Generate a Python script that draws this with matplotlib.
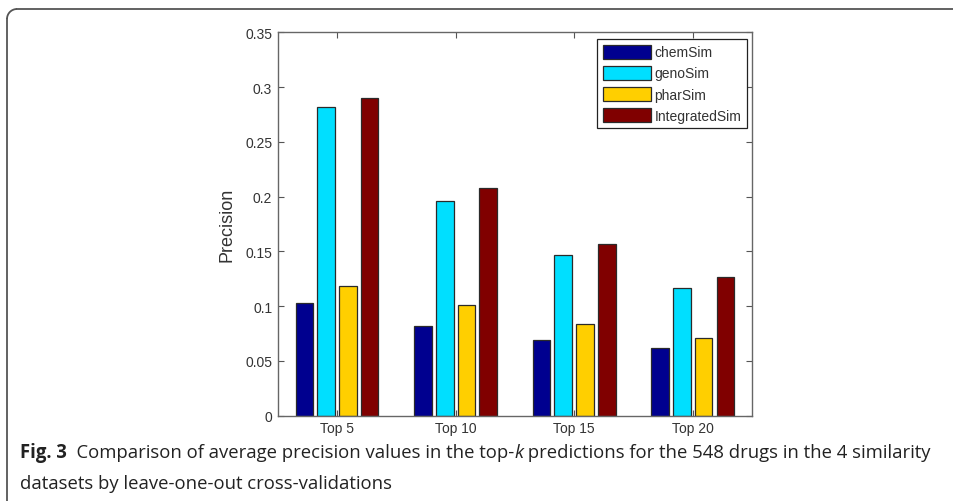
"""Grouped bar chart of top-k precision for four similarity measures."""

import numpy as np
import matplotlib
matplotlib.use('Agg')
import matplotlib.pyplot as plt
from matplotlib.patches import Arc
from matplotlib.lines import Line2D


# data
categories = ['Top 5', 'Top 10', 'Top 15', 'Top 20']
series = ['chemSim', 'genoSim', 'pharSim', 'IntegratedSim']
chem_sim = [0.103, 0.082, 0.069, 0.062]
geno_sim = [0.282, 0.196, 0.147, 0.117]
phar_sim = [0.118, 0.101, 0.084, 0.071]
integrated_sim = [0.290, 0.208, 0.157, 0.127]
yticks = [0, 0.05, 0.1, 0.15, 0.2, 0.25, 0.3, 0.35]
ytick_labels = ['0', '0.05', '0.1', '0.15', '0.2', '0.25', '0.3', '0.35']

COLORS = ['#00008f', '#00dfff', '#ffcf00', '#800000']
caption_1 = [('Fig. 3', 'bold'),
             ('  Comparison of average precision values in the top-', 'normal'),
             ('k', 'italic'),
             (' predictions for the 548 drugs in the 4 similarity', 'normal')]
caption_2 = [('datasets by leave-one-out cross-validations', 'normal')]


def draw_runs(fig, x, y, runs, **kwargs):
    """Draw text runs with different styles one after another."""
    renderer = fig.canvas.get_renderer()
    for text, kind in runs:
        style = {'bold': dict(fontweight='bold'),
                 'italic': dict(style='italic')}.get(kind, {})
        t = fig.text(x, y, text, transform=None, **kwargs, **style)
        x = t.get_window_extent(renderer=renderer).x1
    return x


def main():
    """Main program called during execution."""

    plt.rcParams['font.family'] = ['Liberation Sans', 'DejaVu Sans']

    # initialize figure
    fig = plt.figure(figsize=(9.54, 5.02), dpi=100)
    ax = fig.add_axes([0.2911, 0.1699, 0.4972, 0.7638])

    # draw bars
    x = np.arange(1, len(categories) + 1)
    slot, width = 0.1835, 0.149
    values = [chem_sim, geno_sim, phar_sim, integrated_sim]
    for i, (name, vals) in enumerate(zip(series, values)):
        ax.bar(x + (i - 1.5) * slot, vals, width, color=COLORS[i],
               edgecolor='#2a2a2a', linewidth=0.9, label=name, zorder=2)

    # axes styling (matlab-like)
    ax.set_xlim(0.5, 4.5)
    ax.set_ylim(0, 0.35)
    ax.set_xticks(x)
    ax.set_xticklabels(categories)
    ax.set_yticks(yticks)
    ax.set_yticklabels(ytick_labels)
    ax.tick_params(direction='in', length=4, width=0.8, colors='#555555',
                   labelcolor='#333333', labelsize=10, top=True, right=True,
                   pad=4)
    for spine in ax.spines.values():
        spine.set_color('#666666')
        spine.set_linewidth(1.0)
    ax.set_ylabel('Precision', fontsize=13, color='#333333', labelpad=7)

    # legend
    leg = ax.legend(loc='upper right', fontsize=10, handlelength=3.5,
                    handleheight=1.15, labelspacing=0.47, handletextpad=0.25,
                    borderpad=0.4, borderaxespad=0, fancybox=False,
                    framealpha=1, bbox_to_anchor=(0.9895, 0.982))
    leg.get_frame().set_edgecolor('#222222')
    leg.get_frame().set_linewidth(0.9)
    for txt in leg.get_texts():
        txt.set_color('#333333')

    # frame around figure panel
    h = 502
    frame = dict(color='#555555', lw=1.3, transform=None)
    fig.add_artist(Line2D([17, 960], [h - 10, h - 10], **frame))
    fig.add_artist(Line2D([7, 7], [h - 20, -5], **frame))
    fig.add_artist(Arc((17, h - 20), 20, 20, theta1=90, theta2=180,
                       color='#555555', lw=1.3, transform=None))

    # caption, sized so that the first line spans the panel width
    cap = dict(family='Open Sans', color='#222222', va='baseline')
    size = 12.0
    probe = plt.figure(figsize=(9.54, 5.02), dpi=100)
    end = draw_runs(probe, 20, 0, caption_1, fontsize=size, **cap)
    plt.close(probe)
    size *= (927 - 20) / (end - 20)
    draw_runs(fig, 20, h - 458, caption_1, fontsize=size, **cap)
    draw_runs(fig, 20, h - 489, caption_2, fontsize=size, **cap)

    fig.savefig('out.png', dpi=100)


if __name__ == '__main__':
    main()
